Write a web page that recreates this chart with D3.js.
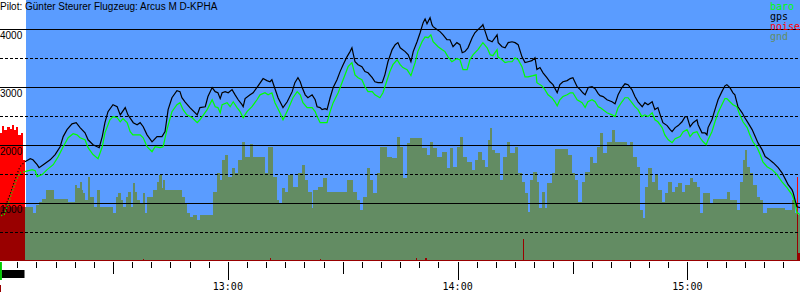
<!DOCTYPE html>
<html>
<head>
<meta charset="utf-8">
<script src="https://cdn.jsdelivr.net/npm/d3@7"></script>
<style>
  body { margin: 0; background: #fff; }
  svg { display: block; }
</style>
</head>
<body>
<svg id="chart"></svg>
<script>
// Flight log, time = minutes after 12:00, heights in metres.
var gpsTrack = [[0.8,815],[1.8,920],[3.1,1145],[4.4,1400],[5.7,1625],[7.0,1710],[8.4,1765],[9.1,1745],[10.2,1660],[10.7,1610],
    [11.8,1660],[13.6,1745],[14.9,1835],[16.2,1970],[17.0,2145],[18.0,2265],[19.3,2365],[20.4,2385],[21.4,2300],[22.7,2210],
    [23.5,2090],[24.8,2005],[25.9,1970],[26.4,1955],[27.2,2145],[27.9,2385],[28.7,2575],[30.0,2695],[31.1,2660],[31.9,2520],
    [33.2,2645],[33.9,2520],[35.3,2385],[36.3,2350],[37.1,2385],[37.9,2315],[38.9,2175],[40.2,2055],[41.5,2145],[42.8,2145],
    [43.6,2230],[44.4,2610],[45.4,2815],[46.7,2935],[47.5,2920],[48.0,2815],[48.8,2745],[50.1,2645],[52.0,2520],[52.7,2645],
    [54.1,2660],[54.8,2835],[55.9,2990],[56.7,2920],[57.4,2900],[58.0,2800],[58.5,2900],[59.3,2920],[60.1,2900],[61.1,2955],
    [61.9,2865],[62.7,2780],[63.7,2695],[64.0,2660],[64.5,2800],[65.8,2865],[66.6,2900],[67.9,3020],[69.2,3145],[70.2,3110],
    [71.0,3090],[71.5,3125],[72.3,2970],[73.1,2815],[74.4,2645],[75.5,2745],[76.8,2920],[77.5,3075],[78.3,3160],[78.9,3090],
    [79.4,2990],[80.2,2865],[80.9,2815],[82.0,2865],[82.8,2780],[83.3,2660],[84.1,2645],[84.6,2610],[85.4,2625],[85.9,2610],
    [86.7,2815],[87.5,2990],[88.5,3125],[89.3,3265],[90.1,3385],[91.1,3520],[91.9,3610],[92.4,3675],[93.2,3435],[94.0,3385],
    [95.0,3350],[95.8,3265],[96.6,3245],[97.7,3160],[98.4,3090],[99.2,3075],[100.3,3075],[101.0,3210],[101.8,3435],[102.9,3645],
    [103.7,3730],[104.4,3765],[105.0,3675],[106.3,3610],[107.1,3555],[107.8,3435],[108.4,3610],[109.4,3780],[110.2,3935],[111.0,4110],
    [111.5,4175],[112.0,4090],[112.8,4195],[113.3,4075],[113.6,4040],[114.6,3990],[115.4,3955],[116.2,3900],[117.2,3815],[118.0,3815],
    [118.8,3695],[119.8,3765],[120.6,3730],[121.2,3590],[121.9,3610],[122.7,3675],[123.8,3850],[124.5,3935],[125.3,3990],[126.4,4055],
    [126.6,4075],[127.2,3955],[127.9,3815],[129.0,3780],[130.3,3900],[130.6,3765],[131.6,3695],[132.4,3675],[133.2,3765],[134.2,3780],
    [135.0,3765],[135.8,3730],[136.8,3520],[137.6,3420],[138.4,3435],[139.4,3455],[140.2,3505],[140.7,3300],[141.5,3335],[142.3,3245],
    [143.3,3160],[144.1,3090],[144.9,3040],[146.0,2900],[146.7,3040],[147.5,3090],[148.6,3110],[149.4,3145],[150.1,3160],[151.2,3005],
    [152.0,2955],[152.7,2900],[153.3,2865],[154.1,2990],[155.1,3005],[155.9,2970],[156.7,2885],[157.2,2850],[158.0,2835],[159.0,2780],
    [160.3,2745],[161.1,2710],[161.9,2865],[162.9,2990],[163.7,3055],[164.5,3040],[165.5,2955],[166.3,2835],[167.1,2745],[168.2,2660],
    [168.9,2730],[169.7,2695],[170.8,2745],[171.5,2610],[172.3,2645],[172.9,2520],[173.6,2385],[174.7,2335],[175.5,2265],[176.0,2230],
    [176.8,2300],[177.6,2335],[178.6,2400],[179.4,2490],[179.9,2490],[180.7,2315],[181.5,2385],[182.5,2435],[182.8,2350],[183.8,2210],
    [184.6,2210],[185.1,2175],[185.4,2300],[186.4,2435],[187.2,2610],[188.0,2780],[189.0,2920],[189.8,3020],[190.3,3040],[191.1,2990],
    [191.9,2900],[192.4,2865],[193.2,2660],[194.3,2555],[195.0,2470],[195.8,2385],[196.9,2265],[197.7,2145],[198.4,2040],[199.5,1920],
    [200.3,1800],[201.1,1765],[202.4,1695],[203.7,1610],[204.7,1520],[205.5,1420],[206.3,1315],[207.3,1230],[207.6,1180],[208.1,1055],
    [208.6,935],[209.4,920]];

var baroTrack = [[0.8,780],[1.6,800],[2.6,970],[3.6,1180],[4.7,1385],[5.7,1520],[7.0,1540],[8.9,1575],[9.7,1555],[10.2,1455],
    [11.5,1490],[12.8,1575],[14.4,1660],[15.7,1800],[17.0,1970],[18.3,2125],[19.6,2195],[20.6,2175],[21.4,2125],[22.7,2090],
    [23.5,1955],[24.8,1835],[26.1,1765],[27.2,1970],[27.9,2210],[29.2,2435],[30.0,2490],[31.1,2470],[31.9,2400],[32.6,2455],
    [33.7,2385],[34.5,2230],[35.2,2175],[37.1,2175],[37.9,2125],[38.9,1970],[40.2,1885],[41.0,1970],[42.3,1955],[43.1,1970],
    [44.1,2265],[45.4,2575],[46.7,2695],[47.5,2730],[48.3,2610],[49.3,2520],[50.7,2470],[52.0,2385],[52.7,2435],[54.6,2610],
    [55.9,2780],[56.7,2660],[57.4,2645],[58.0,2555],[58.5,2695],[59.8,2730],[60.6,2660],[61.4,2745],[62.4,2645],[63.2,2575],
    [64.0,2470],[65.0,2575],[66.3,2660],[67.6,2780],[68.4,2865],[69.7,2900],[70.5,2865],[71.5,2900],[72.3,2730],[73.6,2555],
    [74.4,2435],[75.7,2610],[77.0,2815],[78.1,2920],[78.9,2865],[79.6,2730],[80.7,2645],[82.0,2645],[82.8,2575],[83.3,2490],
    [84.1,2385],[85.4,2385],[85.9,2385],[86.7,2575],[87.5,2730],[88.8,2900],[90.1,3125],[91.4,3350],[92.4,3420],[93.2,3210],
    [94.0,3160],[95.0,3125],[95.8,3005],[96.6,2920],[97.7,2920],[98.4,2865],[99.7,2815],[100.5,2900],[101.6,3125],[102.3,3265],
    [103.1,3385],[104.2,3470],[105.0,3385],[105.7,3335],[106.8,3300],[107.8,3195],[108.9,3420],[109.6,3610],[110.7,3780],[111.5,3865],
    [112.3,3850],[113.0,3900],[113.6,3780],[114.9,3695],[115.9,3645],[116.7,3610],[117.5,3520],[118.5,3435],[119.8,3490],[120.6,3470],
    [121.4,3300],[122.5,3300],[123.2,3470],[124.0,3555],[125.3,3645],[126.6,3765],[127.7,3675],[128.5,3555],[129.2,3540],[130.3,3645],
    [130.5,3520],[131.6,3470],[132.4,3420],[133.2,3435],[134.2,3435],[135.0,3505],[135.8,3470],[136.8,3350],[137.6,3175],[138.4,3175],
    [139.7,3195],[140.5,3210],[140.7,3075],[142.0,3020],[142.8,2955],[143.6,2865],[144.6,2815],[145.4,2745],[146.0,2675],[146.7,2780],
    [147.5,2835],[148.6,2865],[149.4,2900],[150.1,2900],[151.2,2780],[152.5,2730],[153.3,2645],[154.0,2745],[155.1,2780],[155.9,2745],
    [156.7,2660],[157.2,2645],[159.0,2555],[160.3,2520],[161.1,2490],[161.9,2645],[162.9,2745],[163.7,2815],[164.5,2815],[165.5,2730],
    [166.3,2660],[167.1,2610],[168.1,2490],[168.9,2520],[169.7,2490],[170.8,2555],[171.5,2435],[172.3,2400],[173.4,2300],[174.1,2175],
    [175.0,2090],[176.0,2040],[176.8,2110],[178.1,2145],[178.9,2230],[179.9,2265],[180.7,2145],[181.5,2210],[182.5,2230],[183.3,2125],
    [184.1,2055],[184.9,2005],[185.4,2090],[186.4,2230],[187.2,2400],[188.0,2555],[189.0,2695],[189.8,2800],[190.3,2800],[191.1,2745],
    [191.9,2695],[192.9,2660],[193.7,2520],[194.5,2400],[195.6,2300],[196.3,2175],[197.1,2055],[198.2,1955],[199.0,1835],[199.7,1710],
    [200.8,1625],[202.1,1575],[203.4,1490],[204.7,1365],[206.0,1265],[207.3,1145],[208.1,1005],[208.6,835],[209.4,800]];

// terrain under the track (step values)
var groundProfile = [[0.5,935],[9.1,835],[9.9,970],[10.7,1025],[11.5,1075],[12.5,1230],[14.6,1075],[18.3,1025],[20.1,1315],[20.6,1265],
    [21.4,1365],[21.9,1230],[22.2,1180],[22.7,1055],[23.5,1455],[24.0,1110],[25.1,935],[25.8,1230],[26.6,935],[30.0,835],
    [30.8,1110],[31.3,1180],[32.1,1055],[32.6,935],[33.4,1110],[33.9,1195],[34.7,935],[35.2,1350],[35.8,1195],[36.3,1055],
    [37.1,1005],[37.9,1180],[38.4,835],[38.9,1110],[40.5,1230],[41.5,1365],[42.0,1490],[42.8,1265],[43.1,1400],[43.6,1230],
    [48.0,1110],[48.8,1005],[49.3,835],[50.1,765],[50.9,800],[51.9,710],[52.7,800],[56.1,1195],[57.2,1520],[57.9,1400],
    [58.5,1745],[59.3,1835],[60.1,1455],[61.1,1610],[61.9,1520],[62.7,1745],[63.7,2055],[64.5,1800],[65.8,2020],[66.6,1800],
    [69.7,1520],[70.5,1970],[71.8,1455],[72.8,1055],[73.4,1005],[74.1,1265],[74.9,1195],[75.7,1490],[77.0,1280],[78.3,1520],
    [79.4,1660],[80.2,1400],[80.9,1195],[82.0,920],[82.3,1230],[83.5,1280],[84.9,1435],[85.9,1195],[91.1,1400],[92.7,1195],
    [93.7,1055],[94.5,885],[95.3,1110],[96.3,1610],[97.1,1400],[97.9,1180],[98.9,1520],[99.7,1970],[101.6,1800],[102.9,1780],
    [104.2,2145],[105.0,1970],[105.7,1435],[106.8,2040],[107.6,2125],[110.7,1955],[112.0,1835],[112.8,2055],[113.6,1955],[114.6,1800],
    [115.9,1885],[117.2,1610],[118.0,1955],[118.8,1625],[119.8,1970],[120.6,2145],[121.4,1800],[122.5,1710],[123.8,1575],[124.5,1745],
    [125.3,1885],[126.4,1745],[127.2,1625],[128.0,2090],[128.5,2300],[129.0,1920],[129.8,1865],[131.1,1400],[131.9,1800],[132.9,2055],
    [133.7,1865],[135.0,1970],[135.8,1520],[136.8,1365],[137.6,1180],[138.4,850],[138.9,1400],[139.7,1540],[140.7,1365],[141.3,920],
    [142.0,1195],[142.8,920],[143.3,1350],[144.6,1520],[145.4,1935],[148.8,1835],[149.9,1520],[150.6,1400],[151.4,1025],[152.5,1365],
    [153.3,1540],[154.6,1800],[155.4,1695],[156.4,1970],[157.2,2210],[158.0,1865],[159.0,2055],[160.3,2265],[161.1,2055],[164.2,2005],
    [165.0,2055],[165.8,1800],[166.8,1625],[167.6,885],[168.4,745],[168.9,1280],[169.7,1610],[170.8,1365],[171.5,1490],[172.3,1230],
    [173.4,1025],[174.1,1180],[174.9,1365],[176.0,1195],[176.8,1280],[177.6,1350],[178.6,1195],[179.4,1315],[180.7,1435],[181.5,1365],
    [182.5,1280],[183.3,835],[184.1,1180],[185.9,1005],[186.7,1075],[190.3,1195],[191.1,1055],[192.9,885],[193.7,1365],[194.5,1745],
    [195.0,1920],[195.5,1625],[196.3,1520],[197.1,1315],[198.2,1110],[199.0,1055],[199.7,835],[200.8,920],[205.5,885],[207.3,1055],
    [208.1,835],[208.6,800],[209.4,800]];

// engine noise level, drawn on the same scale
var noiseLevel = [[0.5,2210],[1.0,2335],[1.6,2265],[2.4,2315],[3.1,2280],[3.7,2350],[4.2,2265],[4.7,2315],[5.2,2175],[6.0,2210],
    [6.5,1745],[6.9,0],[37.8,40],[38.1,0],[70.9,45],[71.2,0],[84.0,35],[84.3,0],[109.0,50],[109.5,0],[111.6,50],[112.1,0],
    [137.0,380],[137.3,0],[208.6,1450],[208.9,130],[209.4,130]];

var takeoffMark = [0.5, 1.0];
var engineRun = [1.0, 6.9];
var launchEnd = 5.8;

var hourTicks = [60, 120, 180];
var hourLabels = ["13:00", "14:00", "15:00"];
var gridValues = [500, 1000, 1500, 2000, 2500, 3000, 3500, 4000];
var labelValues = [1000, 2000, 3000, 4000];
var legendNames = ["baro", "gps", "noise", "gnd"];
var titleText = "Pilot: Günter Steurer Flugzeug: Arcus M D-KPHA";

var W = 800, H = 300, plotLeft = 26;
var colors = {baro: "#00ff00", gps: "#000000", noise: "#ff0000", gnd: "#638c63"};

var svg = d3.select("#chart")
    .attr("width", W)
    .attr("height", H)
    .style("font-family", "'Liberation Sans', Arial, sans-serif");

var x = d3.scaleLinear().domain([0.5, 209.4]).range([0, W]);
var y = d3.scaleLinear().domain([0, 4000]).range([261, 29]);

// blue plot background
svg.append("rect")
    .attr("x", plotLeft).attr("y", 0)
    .attr("width", W - plotLeft).attr("height", y(0))
    .attr("fill", "#5a9cff");

// ground
var gndArea = d3.area()
    .curve(d3.curveStepAfter)
    .x(function (d) {return x(d[0]);})
    .y0(y(0))
    .y1(function (d) {return y(d[1]);});

svg.append("path").datum(groundProfile)
    .attr("d", gndArea)
    .attr("fill", colors.gnd)
    .attr("shape-rendering", "crispEdges");

svg.append("clipPath").attr("id", "gndClip")
    .append("path").datum(groundProfile).attr("d", gndArea);

// noise, darker where it lies inside the ground
svg.append("path").datum(noiseLevel)
    .attr("d", gndArea)
    .attr("fill", colors.noise)
    .attr("shape-rendering", "crispEdges");
svg.append("path").datum(noiseLevel)
    .attr("d", gndArea)
    .attr("fill", "#990000")
    .attr("clip-path", "url(#gndClip)")
    .attr("shape-rendering", "crispEdges");

// grid
svg.append("g").selectAll("line")
    .data(gridValues)
    .join("line")
    .attr("x1", 0).attr("x2", W)
    .attr("y1", function (d) {return Math.round(y(d)) + 0.5;})
    .attr("y2", function (d) {return Math.round(y(d)) + 0.5;})
    .attr("stroke", "#000")
    .attr("stroke-dasharray", function (d) {return d % 1000 ? "3,2" : null;})
    .attr("shape-rendering", "crispEdges");

svg.append("g").selectAll("text")
    .data(labelValues)
    .join("text")
    .attr("x", 0)
    .attr("y", function (d) {return Math.round(y(d)) + 10;})
    .style("font-size", "10px")
    .text(function (d) {return d;});

// tracks: launch part dotted
var line = d3.line()
    .x(function (d) {return x(d[0]);})
    .y(function (d) {return y(d[1]);});

function drawTrack(data, color)
{
    var i = data.findIndex(function (d) {return d[0] > launchEnd;});
    svg.append("path").datum(data.slice(0, i + 1))
        .attr("d", line).attr("fill", "none")
        .attr("stroke", color).attr("stroke-width", 1.2)
        .attr("stroke-dasharray", "1.2,2");
    svg.append("path").datum(data.slice(i))
        .attr("d", line).attr("fill", "none")
        .attr("stroke", color).attr("stroke-width", 1.2)
        .attr("stroke-linejoin", "miter");
}
drawTrack(baroTrack, colors.baro);
drawTrack(gpsTrack, colors.gps);

// time axis
svg.append("line")
    .attr("x1", 0).attr("x2", W)
    .attr("y1", y(0) - 0.5).attr("y2", y(0) - 0.5)
    .attr("stroke", "#990000");

svg.append("g").selectAll("line")
    .data(d3.range(5, 210, 5))
    .join("line")
    .attr("x1", function (d) {return Math.round(x(d)) + 0.5;})
    .attr("x2", function (d) {return Math.round(x(d)) + 0.5;})
    .attr("y1", y(0) + 1)
    .attr("y2", function (d) {return y(0) + 1 + (d % 60 == 0 ? 18 : d % 30 == 0 ? 12 : 6);})
    .attr("stroke", "#000")
    .attr("shape-rendering", "crispEdges");

svg.append("g").selectAll("text")
    .data(hourTicks)
    .join("text")
    .attr("x", function (d) {return x(d);})
    .attr("y", 290)
    .attr("text-anchor", "middle")
    .style("font-family", "'DejaVu Sans Mono', monospace")
    .style("font-size", "10px")
    .text(function (d, i) {return hourLabels[i];});

// flight phase marks under the axis
svg.append("rect")
    .attr("x", x(takeoffMark[0])).attr("y", y(0) + 1)
    .attr("width", x(takeoffMark[1]) - x(takeoffMark[0])).attr("height", 18)
    .attr("fill", "#00cc00");
svg.append("rect")
    .attr("x", x(engineRun[0])).attr("y", y(0) + 9)
    .attr("width", x(engineRun[1]) - x(engineRun[0])).attr("height", 8)
    .attr("fill", "#000");
svg.append("rect")
    .attr("x", x(takeoffMark[0])).attr("y", y(0) + 24)
    .attr("width", 1).attr("height", 7)
    .attr("fill", "#990000");

// title + legend
svg.append("text")
    .attr("x", 0).attr("y", 9.5)
    .style("font-size", "10px")
    .text(titleText);

svg.append("g").selectAll("text")
    .data(legendNames)
    .join("text")
    .attr("x", 770)
    .attr("y", function (d, i) {return 10 + i * 10;})
    .style("font-family", "'DejaVu Sans Mono', monospace")
    .style("font-size", "10px")
    .attr("fill", function (d) {return colors[d];})
    .text(function (d) {return d;});
</script>
</body>
</html>
